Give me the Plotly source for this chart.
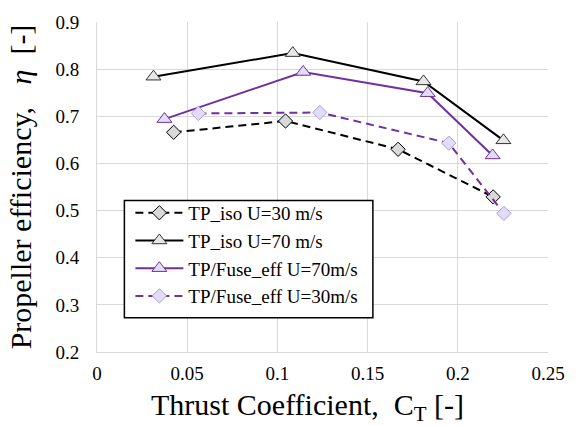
import plotly.graph_objects as go

# Data
x_iso30 = [0.0425, 0.1045, 0.1669, 0.2196]
y_iso30 = [0.666, 0.690, 0.630, 0.529]
x_iso70 = [0.0313, 0.1085, 0.1810, 0.2253]
y_iso70 = [0.784, 0.834, 0.774, 0.649]
x_fuse70 = [0.0374, 0.1143, 0.1833, 0.2193]
y_fuse70 = [0.694, 0.794, 0.749, 0.617]
x_fuse30 = [0.0562, 0.1235, 0.1950, 0.2256]
y_fuse30 = [0.706, 0.708, 0.643, 0.494]

names = ["TP_iso U=30 m/s", "TP_iso U=70 m/s", "TP/Fuse_eff U=70m/s", "TP/Fuse_eff U=30m/s"]
x_ticks = [0, 0.05, 0.1, 0.15, 0.2, 0.25]
x_tick_text = ["0", "0.05", "0.1", "0.15", "0.2", "0.25"]
y_ticks = [0.2, 0.3, 0.4, 0.5, 0.6, 0.7, 0.8, 0.9]
y_tick_text = ["0.2", "0.3", "0.4", "0.5", "0.6", "0.7", "0.8", "0.9"]
x_title = "Thrust Coefficient,\u00a0\u00a0C<sub>T</sub>\u00a0[-]"
y_title = "Propeller efficiency,\u00a0\u00a0\u00a0<i>η</i>\u00a0\u00a0[-]"

PURPLE = "#7030a0"
LAV = "#e2ddf7"
LAV_EDGE = "#b29ae0"
GRAY = "#d9d9d9"
DASH = "8px,5px"
FF = "Times New Roman, Liberation Serif, Tinos, serif"

fig = go.Figure()
fig.add_trace(go.Scatter(x=x_iso30, y=y_iso30, name=names[0], mode="lines+markers", legendgroup="a",
                         line=dict(color="black", width=2, dash=DASH),
                         marker=dict(symbol="diamond", size=11, color=GRAY, line=dict(color="black", width=1))))
fig.add_trace(go.Scatter(x=x_iso70, y=y_iso70, name=names[1], mode="lines+markers", legendgroup="b",
                         line=dict(color="black", width=2),
                         marker=dict(symbol="triangle-up", size=13, color="#e6e6e6", line=dict(color="#333333", width=1))))
fig.add_trace(go.Scatter(x=x_fuse70, y=y_fuse70, name=names[2], mode="lines+markers", legendgroup="c",
                         line=dict(color=PURPLE, width=2),
                         marker=dict(symbol="triangle-up", size=13, color=LAV, line=dict(color=PURPLE, width=1))))
fig.add_trace(go.Scatter(x=x_fuse30, y=y_fuse30, name=names[3], mode="lines+markers", legendgroup="d",
                         line=dict(color=PURPLE, width=2, dash=DASH),
                         marker=dict(symbol="diamond", size=11, color=LAV, line=dict(color=LAV_EDGE, width=1))))

# legend frame
fig.add_shape(type="rect", xref="paper", yref="paper", x0=0.0607, x1=0.6117, y0=0.104, y1=0.459,
              fillcolor="white", line=dict(color="black", width=1.5), layer="above")

fig.add_annotation(text=x_title, xref="paper", yref="paper", x=0.4675, y=-0.167,
                   xanchor="center", yanchor="middle", showarrow=False, height=42,
                   font=dict(size=30, family=FF, color="black"))

fig.update_layout(
    width=577, height=426,
    margin=dict(l=97, r=19, t=16, b=74),
    paper_bgcolor="white", plot_bgcolor="white",
    font=dict(family=FF, color="black", size=19),
    showlegend=True,
    legend=dict(x=0.074, y=0.479, xanchor="left", yanchor="top",
                bgcolor="rgba(0,0,0,0)", borderwidth=0,
                font=dict(size=19, family=FF, color="black"), tracegroupgap=0,
                itemwidth=48),
    xaxis=dict(range=[0, 0.25], tickvals=x_ticks, ticktext=x_tick_text,
               showgrid=True, gridcolor="#d9d9d9", gridwidth=1,
               showline=True, linecolor="#d9d9d9", linewidth=1, zeroline=False,
               tickfont=dict(size=19, family=FF, color="black"), ticks="", ticklabelstandoff=4),
    yaxis=dict(range=[0.2, 0.9], tickvals=y_ticks, ticktext=y_tick_text,
               showgrid=True, gridcolor="#d9d9d9", gridwidth=1,
               showline=True, linecolor="#d9d9d9", linewidth=1, zeroline=False,
               tickfont=dict(size=19, family=FF, color="black"), ticks="", ticklabelstandoff=13,
               title=dict(text=y_title, font=dict(size=30, family=FF, color="black"), standoff=14)),
)

fig.write_html("out.html")
